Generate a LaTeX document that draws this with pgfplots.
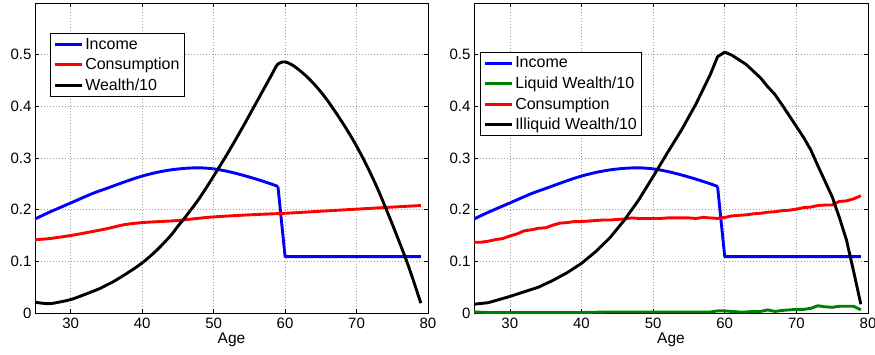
\documentclass[border=0pt]{standalone}
\usepackage{fontspec}
\setmainfont{Liberation Sans}
\usepackage{pgfplots}
\pgfplotsset{compat=1.18}

\definecolor{mblue}{rgb}{0,0,1}
\definecolor{mred}{rgb}{1,0,0}
\definecolor{mgreen}{rgb}{0,0.5,0}

\pgfplotsset{lifecycle/.style={
  scale only axis, width=393pt, height=310pt,
  xmin=25, xmax=80, ymin=0, ymax=0.6,
  xtick={30,40,50,60,70,80}, ytick={0,0.1,0.2,0.3,0.4,0.5},
  grid=major, major grid style={dash pattern=on 1pt off 2pt, gray!75, line width=0.6pt},
  tick align=inside, major tick length=4pt, tick style={black, line width=0.6pt},
  axis line style={line width=0.9pt},
  /pgf/number format/assume math mode=true,
  ticklabel style={font=\fontsize{15}{17}\selectfont},
  xticklabel style={yshift=-1.5pt},
  yticklabel style={/pgf/number format/.cd, fixed, precision=1},
  xlabel={Age}, xlabel style={font=\fontsize{15.5}{17}\selectfont, yshift=2.5pt},
  legend style={font=\fontsize{16}{18}\selectfont, draw=black, line width=0.9pt,
    cells={anchor=west}, inner xsep=3pt, inner ysep=2.5pt, row sep=3.5pt},
  legend image code/.code={\draw[#1, line width=2.9pt] (0pt,0pt) -- (27pt,0pt);},
  every axis plot/.append style={line width=2.9pt, line join=round},
}}

% Income profile: hump-shaped while working, flat pension after 60
\pgfplotstableread{
age income
25 0.182
27 0.195
30 0.213
33 0.231
35 0.241
38 0.256
40 0.265
42 0.272
44 0.277
46 0.280
48 0.281
50 0.279
52 0.274
54 0.267
56 0.259
58 0.250
59 0.245
}\incomework
\pgfplotstableread{
age income
59 0.245
60 0.109
79 0.109
}\incomeretire

\begin{document}
\begin{tikzpicture}
\path[use as bounding box] (-35pt,-41pt) rectangle (840pt,313pt);

% Model without an illiquid asset
\begin{axis}[lifecycle, at={(0pt,0pt)},
  legend style={at={(0.038,0.903)}, anchor=north west}]
\addplot[mblue, smooth] table[x=age, y=income] {\incomework};
\addlegendentry{Income}
\addplot[mblue, forget plot] table[x=age, y=income] {\incomeretire};
\addplot[mred, smooth] coordinates {
(25,0.142)(27,0.144)(30,0.150)(32,0.155)(35,0.163)(37.5,0.171)(40,0.175)
(42.5,0.177)(45,0.179)(47,0.182)(50,0.186)(55,0.190)(60,0.193)(65,0.197)(70,0.201)
(75,0.205)(79,0.208)};
\addlegendentry{Consumption}
\addplot[black, smooth, tension=0.5] coordinates {
(25,0.021)(26,0.019)(27,0.018)(28,0.020)(30,0.026)(32,0.036)(34,0.047)(35,0.054)
(36,0.061)(38,0.078)(40,0.097)(42,0.121)(44,0.150)(45,0.168)(46,0.185)(48,0.222)
(50,0.265)(52,0.310)(54,0.358)(56,0.408)(58,0.458)(59,0.482)(60,0.486)(61,0.480)
(62,0.470)(63,0.458)(64,0.444)(65,0.428)(66,0.410)(67,0.390)(68,0.369)(69,0.347)
(70,0.323)(71,0.297)(72,0.269)(73,0.239)(74,0.206)(75,0.172)(76,0.137)(77,0.101)
(78,0.061)(79,0.019)};
\addlegendentry{Wealth/10}
\end{axis}

% Model with liquid and illiquid wealth
\begin{axis}[lifecycle, at={(439pt,0pt)}, width=394pt,
  legend style={at={(0.015,0.842)}, anchor=north west}]
\addplot[mblue, smooth] table[x=age, y=income] {\incomework};
\addlegendentry{Income}
\addplot[mblue, forget plot] table[x=age, y=income] {\incomeretire};
\addplot[mgreen] coordinates {
(25,0.002)(27,0.001)(30,0.001)(33,0.001)(36,0.001)(40,0.001)(44,0.002)(47,0.002)
(50,0.002)(53,0.002)(56,0.002)(58,0.002)(59,0.004)(60,0.004)(61,0.003)(62,0.002)
(63,0.002)(64,0.003)(65,0.003)(66,0.006)(67,0.003)(68,0.005)(69,0.006)(70,0.007)
(71,0.007)(72,0.009)(73,0.014)(74,0.012)(75,0.011)(76,0.013)(77,0.013)(78,0.013)
(79,0.006)};
\addlegendentry{Liquid Wealth/10}
\addplot[mred] coordinates {
(25,0.137)(26,0.137)(27,0.139)(28,0.142)(29,0.144)(30,0.149)(31,0.153)(32,0.159)
(33,0.161)(34,0.164)(35,0.165)(36,0.170)(37,0.174)(38,0.175)(39,0.177)(40,0.177)
(41,0.178)(42,0.179)(43,0.180)(44,0.180)(45,0.181)(46,0.182)(47,0.184)(48,0.183)
(49,0.183)(50,0.183)(51,0.183)(52,0.184)(53,0.184)(54,0.184)(55,0.184)(56,0.183)
(57,0.185)(58,0.184)(59,0.183)(60,0.185)(61,0.188)(62,0.189)(63,0.190)(64,0.192)
(65,0.193)(66,0.195)(67,0.196)(68,0.198)(69,0.199)(70,0.201)(71,0.204)(72,0.205)
(73,0.208)(74,0.209)(75,0.209)(76,0.216)(77,0.217)(78,0.221)(79,0.227)};
\addlegendentry{Consumption}
\addplot[black] coordinates {
(25,0.017)(27,0.020)(28,0.024)(30,0.032)(32,0.041)(34,0.050)(36,0.063)(38,0.078)
(40,0.096)(42,0.119)(44,0.146)(46,0.180)(48,0.219)(50,0.264)(52,0.310)(54,0.355)
(56,0.405)(58,0.462)(59,0.496)(60,0.505)(61,0.499)(62,0.490)(63,0.481)(64,0.468)
(65,0.455)(66,0.438)(67,0.423)(68,0.403)(69,0.382)(70,0.361)(71,0.340)(72,0.316)
(73,0.285)(74,0.255)(75,0.225)(76,0.185)(77,0.141)(78,0.080)(79,0.017)};
\addlegendentry{Illiquid Wealth/10}
\end{axis}
\end{tikzpicture}
\end{document}
